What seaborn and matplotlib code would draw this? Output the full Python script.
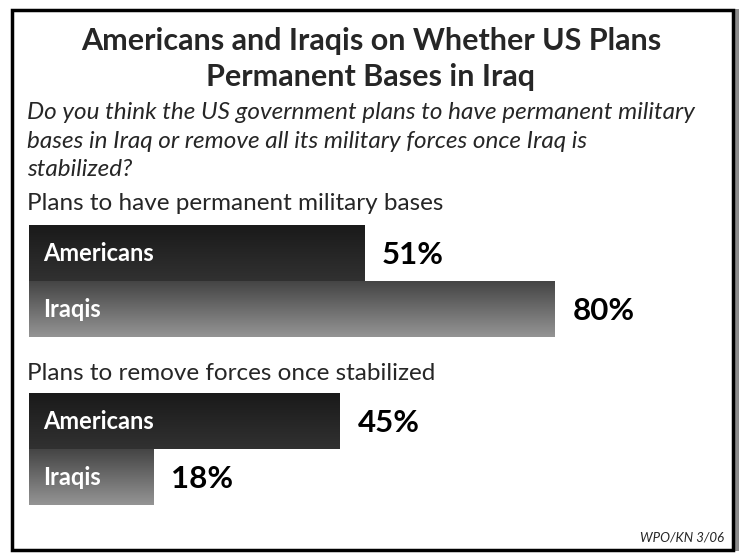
import numpy as np
import pandas as pd
import matplotlib
matplotlib.use("Agg")
import matplotlib.pyplot as plt
from matplotlib.colors import LinearSegmentedColormap
from matplotlib.patches import Rectangle
import seaborn as sns

# Data
groups = ["Plans to have permanent military bases", "Plans to remove forces once stabilized"]
countries = ["Americans", "Iraqis"]
bases_vals = [51, 80]
remove_vals = [45, 18]

title = "Americans and Iraqis on Whether US Plans\nPermanent Bases in Iraq"
question = ("Do you think the US government plans to have permanent military\n"
            "bases in Iraq or remove all its military forces once Iraq is\n"
            "stabilized?")
source = "WPO/KN 3/06"

sns.set_theme(style="white")
plt.rcParams["font.family"] = ["Lato", "DejaVu Sans"]

W, H = 739, 553
fig = plt.figure(figsize=(W / 100, H / 100), dpi=100)

def fx(px):
    return px / W

def fy(py):
    return 1 - py / H

# gradient colours (top -> bottom) for each country
grads = {
    "Americans": LinearSegmentedColormap.from_list("am", ["#1a1a1a", "#313131"]),
    "Iraqis": LinearSegmentedColormap.from_list("iq", ["#454545", "#949494"]),
}

def draw_group(vals, top_px, px_per_pct):
    bottom_px = top_px + 112
    ax = fig.add_axes([fx(29), fy(bottom_px), fx(px_per_pct * 100), 112 / H])
    df = pd.DataFrame({"country": countries, "pct": vals})
    sns.barplot(data=df, x="pct", y="country", orient="h", width=1.0,
                color="black", ax=ax, saturation=1)
    ax.set_xlim(0, 100)
    ax.set_ylim(1.5, -0.5)
    grad = np.linspace(0, 1, 100).reshape(-1, 1)
    for patch, name, v in zip(ax.patches, countries, vals):
        x0, y0 = patch.get_x(), patch.get_y()
        w, h = patch.get_width(), patch.get_height()
        patch.set_facecolor("none")
        patch.set_edgecolor("none")
        im = ax.imshow(grad, extent=(x0, x0 + w, y0 + h, y0), aspect="auto",
                       cmap=grads[name], origin="upper", zorder=1)
        im.set_clip_path(patch)
        ax.text(14 / px_per_pct, y0 + h / 2 + 0.01, name, color="white",
                fontsize=17, fontweight="bold", va="center", ha="left", zorder=3)
        ax.text(x0 + w + 18 / px_per_pct, y0 + h / 2 + 0.03, f"{v}%",
                color="black", fontsize=22.5, fontweight="bold",
                va="center", ha="left", clip_on=False, zorder=3)
    ax.set_xlim(0, 100)
    ax.set_ylim(1.5, -0.5)
    ax.axis("off")
    return ax

draw_group(bases_vals, 225, 6.57)
draw_group(remove_vals, 393, 6.9)

fig.text(fx(371), fy(59), title, ha="center", va="center", fontsize=22,
         fontweight="bold", linespacing=1.38)
fig.text(fx(27), fy(141), question, ha="left", va="center", fontsize=17.5,
         style="italic", linespacing=1.42)
fig.text(fx(27), fy(203), groups[0], ha="left", va="center", fontsize=17.5)
fig.text(fx(27), fy(373), groups[1], ha="left", va="center", fontsize=17.5)
fig.text(fx(724), fy(538), source, ha="right", va="center", fontsize=9.5,
         style="italic")

# frame with a grey shadow on the right
fig.patches.append(Rectangle((fx(735), fy(551)), fx(4), fy(9) - fy(551),
                             transform=fig.transFigure, facecolor="#8c8c8c",
                             edgecolor="none"))
fig.patches.append(Rectangle((fx(12), fy(550)), fx(721), fy(10) - fy(550),
                             transform=fig.transFigure, facecolor="none",
                             edgecolor="black", linewidth=2.5))

fig.savefig("out.png", dpi=100)
